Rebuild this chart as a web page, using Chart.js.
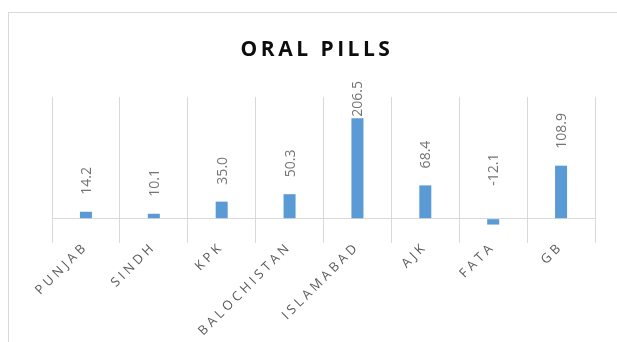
<!DOCTYPE html>
<html>
<head>
<meta charset="utf-8">
<script src="https://cdn.jsdelivr.net/npm/chart.js@4.4.1/dist/chart.umd.min.js"></script>
<style>
  html, body { margin: 0; padding: 0; background: #fff; }
  #wrap { width: 617px; height: 342px; }
</style>
</head>
<body>
<div id="wrap"><canvas id="pillsChart" width="617" height="342"></canvas></div>
<script>
// регионы и значения (%)
const regions    = ['PUNJAB', 'SINDH', 'KPK', 'BALOCHISTAN', 'ISLAMABAD', 'AJK', 'FATA', 'GB'];
const pillValues = [14.2, 10.1, 35.0, 50.3, 206.5, 68.4, -12.1, 108.9];
const valueMin   = -50;
const valueMax   = 250;
const chartTitle = 'ORAL PILLS';

const BAR_COLOR   = '#5b9bd5';
const GRID_COLOR  = '#d9d9d9';
const LABEL_COLOR = '#595959';
const FONT        = "'Open Sans', 'Noto Sans', sans-serif";

// рамка вокруг диаграммы + разрядка букв для заголовка и подписей оси
const frameAndSpacing = {
  id: 'frameAndSpacing',
  beforeDraw(chart) {
    const ctx = chart.ctx;
    ctx.save();
    ctx.strokeStyle = GRID_COLOR;
    ctx.lineWidth = 1;
    ctx.strokeRect(8.5, 12.5, 700, 400);
    ctx.restore();
    ctx.letterSpacing = '3.5px';
  }
};

// подписи значений над столбцами, повернутые на 90°
const valueLabels = {
  id: 'valueLabels',
  afterDatasetsDraw(chart) {
    const ctx = chart.ctx;
    const meta = chart.getDatasetMeta(0);
    const zeroY = chart.scales.y.getPixelForValue(0);
    ctx.save();
    ctx.letterSpacing = '0px';
    ctx.font = `14px ${FONT}`;
    ctx.fillStyle = '#737373';
    ctx.textAlign = 'left';
    ctx.textBaseline = 'middle';
    meta.data.forEach((bar, i) => {
      const v = pillValues[i];
      const text = v.toFixed(1);
      const w = ctx.measureText(text).width;
      let start = v < 0 ? zeroY - 33 : bar.y - 17;
      if (start - w < 81) start = 81 + w;
      ctx.save();
      ctx.translate(bar.x + 1, start);
      ctx.rotate(-Math.PI / 2);
      ctx.fillText(text, 0, 0);
      ctx.restore();
    });
    ctx.restore();
  }
};

new Chart(document.getElementById('pillsChart'), {
  type: 'bar',
  data: {
    labels: regions,
    datasets: [{
      data: pillValues,
      backgroundColor: BAR_COLOR,
      barPercentage: 0.177,
      categoryPercentage: 1
    }]
  },
  options: {
    responsive: false,
    animation: false,
    devicePixelRatio: 1,
    layout: { padding: { left: 39, right: 22, top: 0, bottom: 0 } },
    plugins: {
      legend: { display: false },
      tooltip: { enabled: false },
      title: {
        display: true,
        text: chartTitle,
        color: '#0d0d0d',
        font: { family: FONT, size: 21, weight: 'bold' },
        padding: { top: 37, bottom: 34.8 }
      }
    },
    scales: {
      x: {
        afterFit(scale) { scale.height = 99; },
        grid: { color: GRID_COLOR, drawTicks: false, offset: true },
        border: { display: false },
        ticks: {
          color: LABEL_COLOR,
          font: { family: FONT, size: 13 },
          minRotation: 45,
          maxRotation: 45,
          padding: -4,
          autoSkip: false
        }
      },
      y: {
        min: valueMin,
        max: valueMax,
        afterFit(scale) { scale.width = 13; },
        ticks: { display: false, stepSize: 50 },
        border: { display: false },
        grid: {
          drawTicks: false,
          color: c => (c.tick && c.tick.value === 0 ? GRID_COLOR : 'rgba(0,0,0,0)')
        }
      }
    }
  },
  plugins: [frameAndSpacing, valueLabels]
});
</script>
</body>
</html>
